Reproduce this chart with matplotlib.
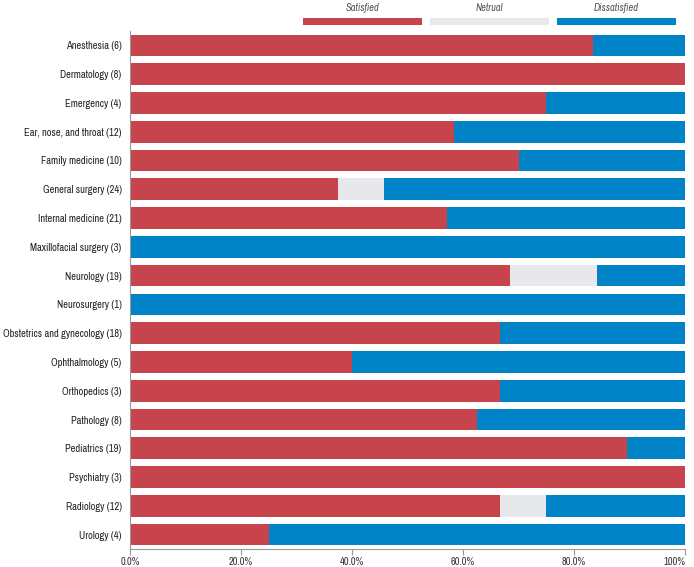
import numpy as np
import matplotlib
matplotlib.use('Agg')
import matplotlib.pyplot as plt
from matplotlib.ticker import FuncFormatter

plt.rcParams['font.family'] = ['Archivo Narrow', 'DejaVu Sans']

# departments, respondents, counts per answer
departments = ['Anesthesia', 'Dermatology', 'Emergency', 'Ear, nose, and throat',
               'Family medicine', 'General surgery', 'Internal medicine',
               'Maxillofacial surgery', 'Neurology', 'Neurosurgery',
               'Obstetrics and gynecology', 'Ophthalmology', 'Orthopedics',
               'Pathology', 'Pediatrics', 'Psychiatry', 'Radiology', 'Urology']
satisfied = [5, 8, 3, 7, 7, 9, 12, 0, 13, 0, 12, 2, 2, 5, 17, 3, 8, 1]
neutral = [0, 0, 0, 0, 0, 2, 0, 0, 3, 0, 0, 0, 0, 0, 0, 0, 1, 0]
dissatisfied = [1, 0, 1, 5, 3, 13, 9, 3, 3, 1, 6, 3, 1, 3, 2, 0, 3, 3]

series_names = ['Satisfied', 'Netrual', 'Dissatisfied']
colors = ['#c8444c', '#e7e8ec', '#0083c7']

sat = np.array(satisfied, float)
neu = np.array(neutral, float)
dis = np.array(dissatisfied, float)
tot = sat + neu + dis
labels = ['%s (%d)' % (d, n) for d, n in zip(departments, tot)]
parts = [sat / tot, neu / tot, dis / tot]

fig = plt.figure(figsize=(6.94, 5.67), dpi=100)
ax = fig.add_axes([130 / 694, 18 / 567, 555 / 694, 518 / 567])

y = np.arange(len(departments))
left = np.zeros(len(departments))
for p, c in zip(parts, colors):
    ax.barh(y, p, left=left, height=0.75, color=c, linewidth=0)
    left += p

ax.set_ylim(len(departments) - 0.5, -0.5)
ax.set_xlim(0, 1)
ax.set_yticks(y)
ax.set_yticklabels(labels, fontsize=7.5, color='#222222')
ax.set_xticks([0, 0.2, 0.4, 0.6, 0.8, 1.0])
ax.xaxis.set_major_formatter(FuncFormatter(lambda v, pos: '100%' if v >= 1 else '%.1f%%' % (v * 100)))
ax.tick_params(axis='x', labelsize=7.5, colors='#333333', length=4, width=0.8, color='#999999', pad=2)
ax.tick_params(axis='y', length=0, pad=6)
ax.get_xticklabels()[-1].set_horizontalalignment('right')
for s in ['top', 'right']:
    ax.spines[s].set_visible(False)
for s in ['left', 'bottom']:
    ax.spines[s].set_color('#999999')
    ax.spines[s].set_linewidth(0.8)

# legend: long colour bars with italic names above
lax = fig.add_axes([299 / 694, 1 - 25 / 567, 381 / 694, 7 / 567])
lax.bar(range(3), 1, width=0.94, color=colors, linewidth=0)
lax.set_xlim(-0.5, 2.5)
lax.set_ylim(0, 1)
lax.axis('off')
for i, name in enumerate(series_names):
    lax.text(i, 1.7, name, ha='center', va='bottom', fontsize=7.5,
             style='italic', color='#555555')

fig.savefig('out.png', dpi=100)
